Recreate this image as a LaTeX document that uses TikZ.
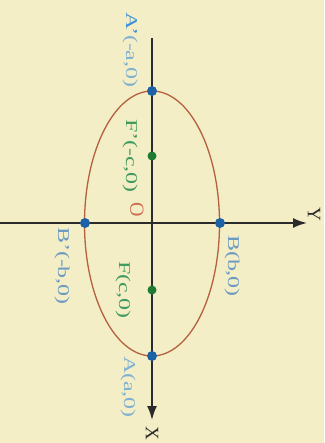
\documentclass[tikz,border=0pt]{standalone}
\usepackage{fontspec}
\setmainfont{Liberation Serif}
\usetikzlibrary{arrows.meta}
\definecolor{bg}{HTML}{F3EEC6}
\definecolor{axisc}{HTML}{2B2B2B}
\definecolor{ellc}{HTML}{B5603F}
\definecolor{ptblue}{HTML}{1E62A6}
\definecolor{ptgreen}{HTML}{1F7A34}
\definecolor{abright}{HTML}{3C8FD6}
\definecolor{apale}{HTML}{7FB0D2}
\definecolor{bblue}{HTML}{6A9AC2}
\definecolor{fgreen}{HTML}{3F9A5E}
\definecolor{ored}{HTML}{CF6E52}
\tikzset{
  axisline/.style={draw=axisc, line width=1.8pt, -{Latex[length=14pt,width=10pt]}},
  ellline/.style={draw=ellc, line width=1.3pt},
  bluept/.style={circle, fill=ptblue, inner sep=0pt, minimum size=10pt},
  greenpt/.style={circle, fill=ptgreen, inner sep=0pt, minimum size=9pt},
  lbl/.style={rotate=-90, inner sep=0pt, font=\fontsize{16.5pt}{17pt}\selectfont},
  axlbl/.style={rotate=-90, inner sep=0pt, font=\fontsize{19pt}{20pt}\selectfont, text=axisc}
}
\newcommand{\stretchtxt}[1]{\scalebox{1.45}[1]{#1}}
\begin{document}
\begin{tikzpicture}[x=1pt,y=-1pt]
\fill[bg] (0,0) rectangle (324,443);
\useasboundingbox (0,0) rectangle (324,443);
\coordinate (O) at (152,223.5);
\draw[ellline] (O) ellipse [x radius=67.5, y radius=132.5];
\coordinate (yl) at (0,223);
\coordinate (yr) at (307,223);
\coordinate (xt) at (152,38);
\coordinate (xb) at (152,420);
\draw[axisline] (yl) -- (yr);
\draw[axisline] (xt) -- (xb);
\node[bluept] (Ap) at (152,91) {};
\node[bluept] (A) at (152,356) {};
\node[bluept] (Bp) at (85,223) {};
\node[bluept] (B) at (220,223) {};
\node[greenpt] (Fp) at (152,156) {};
\node[greenpt] (F) at (152,290) {};
\node[lbl] (lAp) at (130,50) {\stretchtxt{\textcolor{abright}{A’}\textcolor{apale}{(-a,0)}}};
\node[lbl, text=fgreen] (lFp) at (130,156) {\stretchtxt{F’(-c,0)}};
\node[lbl, text=ored, font=\fontsize{20pt}{20pt}\selectfont] (lO) at (137,210) {O};
\node[lbl, text=bblue] (lBp) at (62,266) {\stretchtxt{B’(-b,0)}};
\node[lbl, text=fgreen] (lF) at (123,290) {\stretchtxt{F(c,0)}};
\node[lbl, text=apale] (lA) at (128,387) {\stretchtxt{A(a,0)}};
\node[lbl, text=bblue] (lB) at (232,266) {\stretchtxt{B(b,0)}};
\node[axlbl] (lX) at (152,433) {X};
\node[axlbl] (lY) at (314,214) {Y};
\end{tikzpicture}
\end{document}
